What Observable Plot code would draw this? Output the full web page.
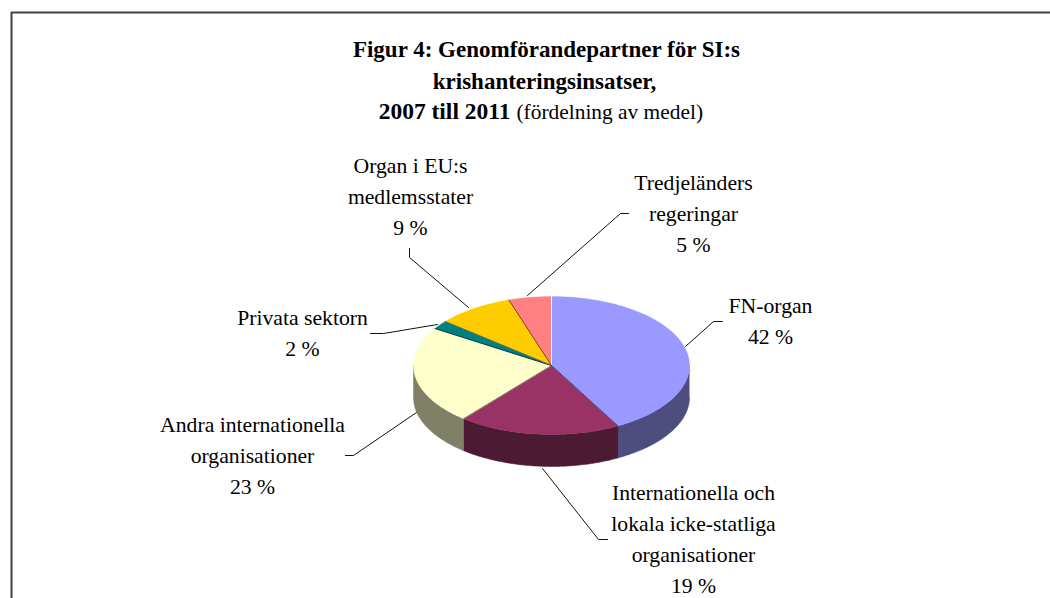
<!DOCTYPE html>
<html>
<head>
<meta charset="utf-8">
<style>html,body{margin:0;padding:0;background:#fff}svg{display:block}</style>
<script src="https://cdn.jsdelivr.net/npm/d3@7"></script>
<script src="https://cdn.jsdelivr.net/npm/@observablehq/plot@0.6"></script>
</head>
<body>
<div id="chart"></div>
<script>
// Data
const partners = ["FN-organ","Internationella och lokala icke-statliga organisationer","Andra internationella organisationer","Privata sektorn","Organ i EU:s medlemsstater","Tredjeländers regeringar"];
const shares = [42,19,23,2,9,5];
const labelLines = [
  ["FN-organ"],
  ["Internationella och","lokala icke-statliga","organisationer"],
  ["Andra internationella","organisationer"],
  ["Privata sektorn"],
  ["Organ i EU:s","medlemsstater"],
  ["Tredjeländers","regeringar"]
];
const topColors = ["#9999ff","#993366","#ffffcc","#008080","#ffcc00","#ff8080"];
const sideColors = ["#4d4d80","#4d1a33","#808066","#004040","#806600","#804040"];

// Layout (annotation placement, in SVG units)
const W = 1050, H = 598;
const pie = {cx:551, cy:365, rx:138, ry:69, depth:32};
const labelX = [770,693,252,302,410,693];
const labelY = [312,499,431,324,172,189];
const lineStep = 31;
const leaders = [
  [[685,346],[713,321],[722,321]],
  [[542,468],[598,539],[607,539]],
  [[416,412],[353,455],[345,455]],
  [[437,324],[383,333],[370,333]],
  [[468,307],[409,257],[409,248]],
  [[527,295],[620,213],[628,213]]
];
const frame = [[1050,12],[11,12],[11,598]];
const serif = "Liberation Serif";

// Derived geometry
const rim = (deg, drop=0) => {
  const a = deg*Math.PI/180;
  return {x: pie.cx + pie.rx*Math.sin(a), y: pie.cy - pie.ry*Math.cos(a) + drop};
};
const arcDegs = (a0,a1) => {
  const out = [];
  for (let a=a0; a<a1; a+=1) out.push(a);
  out.push(a1);
  return out;
};
let acc = 0;
const slices = shares.map((s,i)=>{const a0=acc*3.6; acc+=s; return {i,a0,a1:acc*3.6};});
const tops = slices.flatMap(({i,a0,a1})=>[
  {key:i,x:pie.cx,y:pie.cy,color:topColors[i]},
  ...arcDegs(a0,a1).map(d=>({key:i,...rim(d),color:topColors[i]}))
]);
const walls = slices.flatMap(({i,a0,a1})=>{
  const b0=Math.max(a0,90), b1=Math.min(a1,270);
  if (b1<=b0) return [];
  const ds=arcDegs(b0,b1);
  return [...ds.map(d=>({key:i,...rim(d),color:sideColors[i]})),
          ...ds.slice().reverse().map(d=>({key:i,...rim(d,pie.depth),color:sideColors[i]}))];
});
const edgeColors = ["#ffffff","#4d4d80","#808066","#004040","#406060","#804020"];
const edges = slices.flatMap(({i,a0})=>[
  {key:i,x:pie.cx,y:pie.cy,color:edgeColors[i]},
  {key:i,...rim(a0),color:edgeColors[i]}
]);
const leaderPts = leaders.flatMap((l,i)=>l.map(([x,y])=>({key:i,x,y})));
const framePts = frame.map(([x,y])=>({x,y}));
const labelRows = labelLines.flatMap((lines,i)=>[...lines,`${shares[i]} %`].map((text,j)=>({
  text, x:labelX[i], y:labelY[i]+j*lineStep
})));
const titleBold = [
  {text:"Figur 4: Genomförandepartner för SI:s",x:546,y:56,anchor:"middle"},
  {text:"krishanteringsinsatser,",x:544,y:88,anchor:"middle"},
  {text:"2007 till 2011",x:510,y:118,anchor:"end"}
];
const titleRegular = [{text:"(fördelning av medel)",x:516,y:118}];

const chart = Plot.plot({
  width:W,height:H,margin:0,
  style:{background:"#fff"},
  x:{domain:[0,W],range:[0,W],axis:null},
  y:{domain:[0,H],range:[0,H],axis:null},
  color:{type:"identity"},
  marks:[
    Plot.line(framePts,{x:"x",y:"y",stroke:"#404040",strokeWidth:2,curve:"linear"}),
    Plot.line(walls,{x:"x",y:"y",z:"key",fill:"color",stroke:"color",strokeWidth:0.5}),
    Plot.line(tops,{x:"x",y:"y",z:"key",fill:"color",stroke:"color",strokeWidth:0.3}),
    Plot.line(edges,{x:"x",y:"y",z:"key",stroke:"color",strokeWidth:1}),
    Plot.line(leaderPts,{x:"x",y:"y",z:"key",stroke:"#111",strokeWidth:1}),
    Plot.text(labelRows,{x:"x",y:"y",text:"text",lineAnchor:"bottom",fontFamily:serif,fontSize:21.7,fill:"#000"}),
    Plot.text(titleBold,{x:"x",y:"y",text:"text",textAnchor:"middle",lineAnchor:"bottom",fontFamily:serif,fontWeight:"bold",fontSize:23,fill:"#000",filter:d=>d.anchor==="middle"}),
    Plot.text(titleBold,{x:"x",y:"y",text:"text",textAnchor:"end",lineAnchor:"bottom",fontFamily:serif,fontWeight:"bold",fontSize:23.5,fill:"#000",filter:d=>d.anchor==="end"}),
    Plot.text(titleRegular,{x:"x",y:"y",text:"text",textAnchor:"start",lineAnchor:"bottom",fontFamily:serif,fontSize:21.4,fill:"#000"})
  ]
});
document.getElementById("chart").append(chart);
</script>
</body>
</html>
